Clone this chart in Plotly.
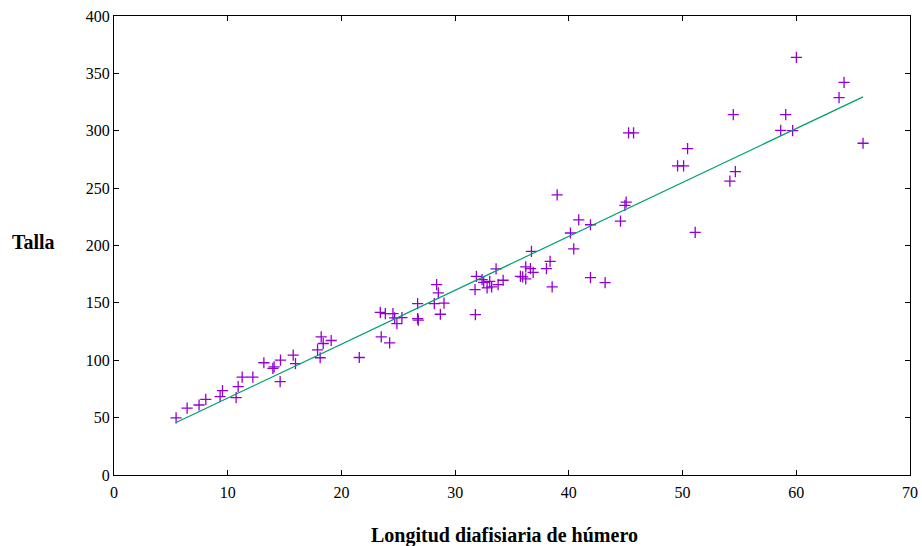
import numpy as np
import plotly.graph_objects as go

# Longitud diafisiaria de húmero (x) y talla (y)
humero = [
    5.46, 6.43, 7.48, 8.07, 9.33, 9.54, 10.74, 10.92, 11.27, 12.21,
    13.18, 13.97, 14.08, 14.61, 14.64, 15.76, 15.96, 17.90, 18.13, 18.22,
    18.40, 19.10, 21.57, 23.42, 23.50, 23.86, 24.24, 24.53, 24.68, 24.88,
    25.32, 26.70, 26.70, 26.76, 28.17, 28.37, 28.52, 28.70, 29.02, 31.75,
    31.78, 31.87, 32.37, 32.51, 32.81, 33.04, 33.21, 33.60, 33.78, 34.22,
    35.74, 35.94, 36.21, 36.21, 36.62, 36.71, 36.86, 38.03, 38.35, 38.53,
    38.97, 40.14, 40.43, 40.87, 41.90, 41.90, 43.19, 44.54, 44.93, 45.04,
    45.25, 45.69, 49.56, 50.09, 50.44, 51.11, 54.16, 54.46, 54.64, 58.63,
    59.07, 59.68, 60.01, 63.76, 64.20, 65.87,
]
talla = [
    49.7, 58.3, 61.0, 65.9, 68.3, 73.5, 67.4, 77.0, 85.3, 85.3,
    97.8, 92.9, 94.3, 81.3, 100.1, 104.4, 97.0, 109.1, 102.2, 120.4,
    114.6, 117.2, 102.4, 141.8, 120.4, 140.7, 115.2, 140.7, 137.0, 132.0,
    137.2, 149.4, 136.3, 134.9, 149.4, 165.9, 158.7, 140.1, 149.7, 161.6,
    139.8, 173.1, 170.3, 167.9, 163.0, 168.8, 163.9, 179.6, 165.9, 169.7,
    173.1, 172.6, 181.3, 170.9, 179.8, 194.9, 176.6, 179.8, 186.2, 163.9,
    244.2, 210.9, 197.0, 222.4, 218.1, 172.0, 167.7, 221.3, 234.9, 237.8,
    298.1, 298.1, 269.4, 269.4, 284.5, 211.4, 256.1, 314.0, 264.4, 300.4,
    314.0, 300.1, 363.9, 328.8, 342.2, 289.1,
]

x_ticks = [0, 10, 20, 30, 40, 50, 60, 70]
y_ticks = [0, 50, 100, 150, 200, 250, 300, 350, 400]

# recta de regresión por mínimos cuadrados
pend, orden = np.polyfit(humero, talla, 1)
x_fit = np.array([min(humero), max(humero)])
y_fit = orden + pend * x_fit

FONT = "Liberation Serif, Times New Roman, serif"

fig = go.Figure()
fig.add_trace(go.Scatter(
    x=humero, y=talla, mode="markers",
    marker=dict(symbol="cross-thin", size=8, line=dict(color="#9400d3", width=1.3)),
    showlegend=False,
))
fig.add_trace(go.Scatter(
    x=x_fit, y=y_fit, mode="lines",
    line=dict(color="#009e73", width=1.2),
    showlegend=False,
))

axis_common = dict(
    showgrid=False, zeroline=False, showline=True, linecolor="black", linewidth=1,
    mirror="ticks", ticks="inside", ticklen=5, tickcolor="black",
    tickfont=dict(family=FONT, size=16, color="black"),
    automargin=False,
)
fig.update_xaxes(range=[0, 70], tickvals=x_ticks, ticklabelstandoff=3, **axis_common)
fig.update_yaxes(range=[0, 400], tickvals=y_ticks, **axis_common)

fig.add_annotation(
    text="<b>Talla</b>", xref="paper", yref="paper", x=-0.101, y=0.507,
    xanchor="center", yanchor="middle",
    showarrow=False, font=dict(family=FONT, size=20, color="black"),
)
fig.add_annotation(
    text="<b>Longitud diafisiaria de húmero</b>", xref="paper", yref="paper",
    x=0.49, y=-0.131, xanchor="center", yanchor="middle", showarrow=False,
    font=dict(family=FONT, size=20, color="black"),
)

fig.update_layout(
    width=922, height=546,
    margin=dict(l=114, r=12, t=16, b=71),
    paper_bgcolor="white", plot_bgcolor="white",
)

fig.write_html("out.html")
